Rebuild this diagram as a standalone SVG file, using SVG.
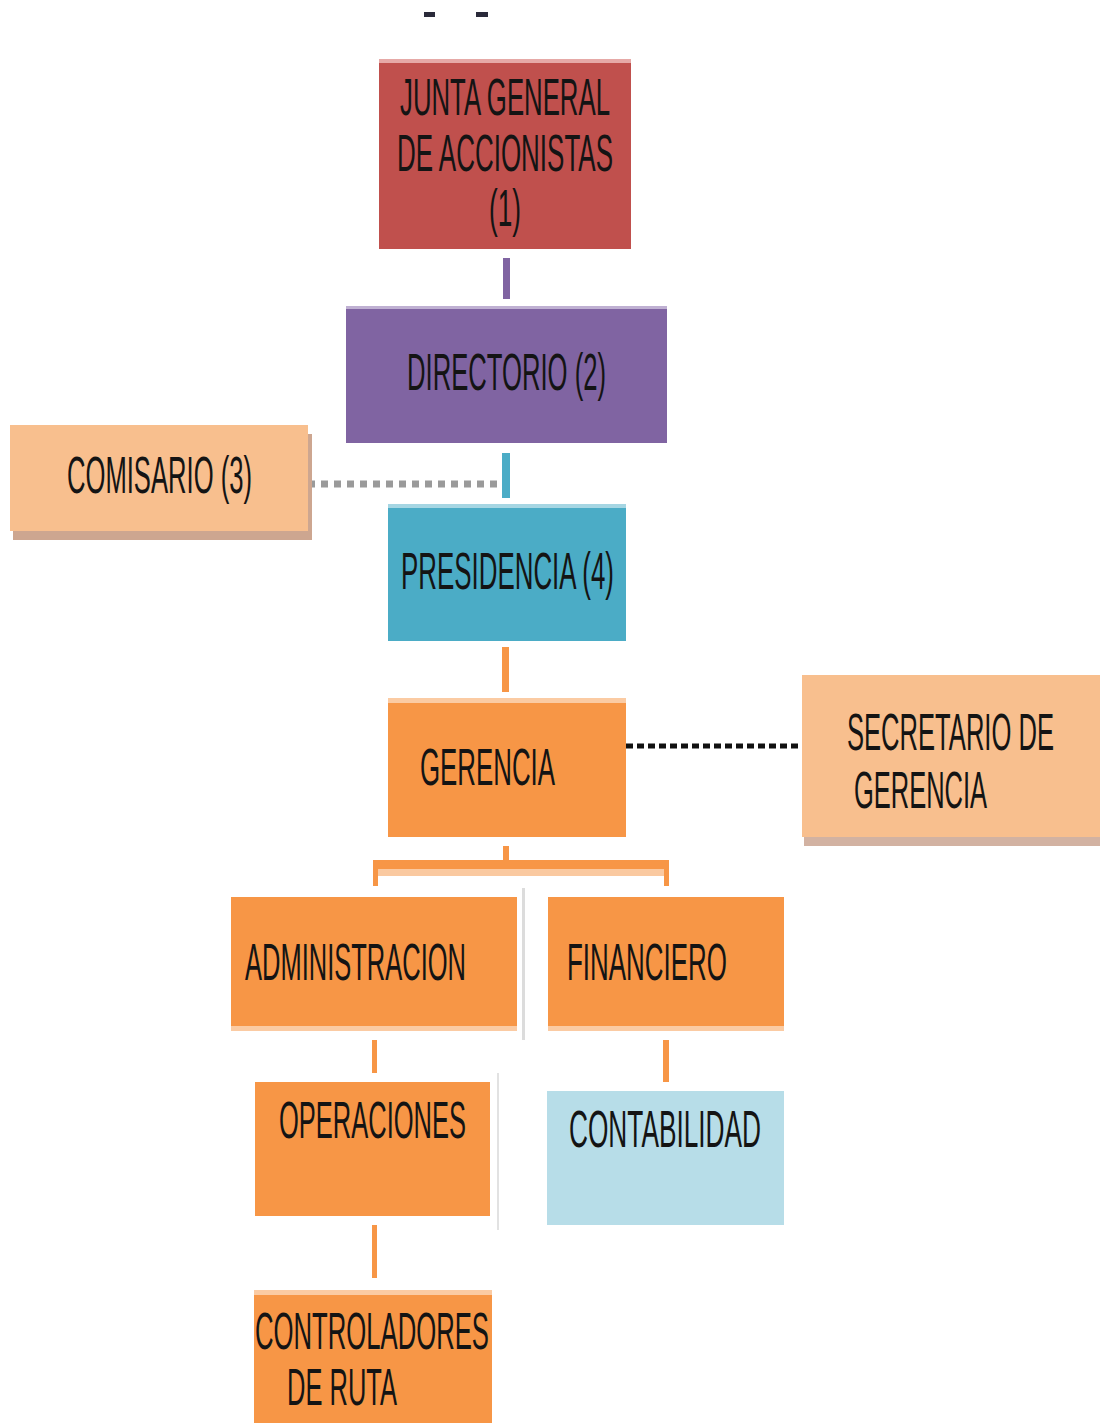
<svg xmlns="http://www.w3.org/2000/svg" width="1101" height="1423" viewBox="0 0 1101 1423">
  <style>
    .lbl { font-family: "Liberation Sans", Arial, sans-serif; font-size: 52px; fill: #141414; }
  </style>
  <rect width="1101" height="1423" fill="#ffffff"/>

  <!-- stray marks at the top -->
  <rect x="424" y="12" width="11" height="5" fill="#2a2a3a"/>
  <rect x="476" y="12" width="12" height="5" fill="#2a2a3a"/>

  <!-- connectors -->
  <g id="connectors">
    <rect x="503" y="258" width="7" height="41" fill="#8064A2"/>
    <rect x="502" y="453" width="8" height="45" fill="#4BACC6"/>
    <line x1="308" y1="484" x2="501" y2="484" stroke="#9a9a9a" stroke-width="7" stroke-dasharray="7 6"/>
    <rect x="502" y="647" width="7" height="45" fill="#F79646"/>
    <line x1="626" y1="746" x2="802" y2="746" stroke="#111111" stroke-width="5" stroke-dasharray="7 4"/>
    <!-- branch under GERENCIA -->
    <rect x="503" y="846" width="6" height="16" fill="#F79646"/>
    <rect x="374" y="860" width="294" height="9" fill="#F79646"/>
    <rect x="378" y="869" width="286" height="7" fill="#FAC9A0"/>
    <rect x="373" y="860" width="5" height="26" fill="#F79646"/>
    <rect x="664" y="860" width="5" height="26" fill="#F79646"/>
    <rect x="522" y="888" width="3" height="152" fill="#dcdcdc"/>
    <rect x="497" y="1073" width="2" height="157" fill="#e2e2e2"/>
    <rect x="372" y="1040" width="5" height="33" fill="#F79646"/>
    <rect x="663" y="1040" width="6" height="42" fill="#F79646"/>
    <rect x="372" y="1225" width="5" height="53" fill="#F79646"/>
  </g>

  <!-- labels are set in a condensed form: half-width scale, stretched back to exact width -->
  <g id="junta">
    <rect x="379" y="59" width="252" height="190" fill="#C0504D"/>
    <rect x="379" y="59" width="252" height="4" fill="#E6A9A7"/>
    <text class="lbl" transform="translate(400,115) scale(0.5,1)" textLength="420" lengthAdjust="spacingAndGlyphs">JUNTA GENERAL</text>
    <text class="lbl" transform="translate(397,171) scale(0.5,1)" textLength="432" lengthAdjust="spacingAndGlyphs">DE ACCIONISTAS</text>
    <text class="lbl" transform="translate(489,226) scale(0.5,1)" textLength="64" lengthAdjust="spacingAndGlyphs">(1)</text>
  </g>

  <g id="directorio">
    <rect x="346" y="306" width="321" height="137" fill="#8064A2"/>
    <rect x="346" y="306" width="321" height="3" fill="#BFB0D2"/>
    <text class="lbl" transform="translate(407,390) scale(0.5,1)" textLength="398" lengthAdjust="spacingAndGlyphs">DIRECTORIO (2)</text>
  </g>

  <g id="comisario">
    <rect x="13" y="434" width="299" height="106" fill="#CDA690"/>
    <rect x="10" y="425" width="298" height="106" fill="#F8BF8E"/>
    <text class="lbl" transform="translate(67,493) scale(0.5,1)" textLength="370" lengthAdjust="spacingAndGlyphs">COMISARIO (3)</text>
  </g>

  <g id="presidencia">
    <rect x="388" y="504" width="238" height="137" fill="#4BACC6"/>
    <rect x="388" y="504" width="238" height="4" fill="#A6D6E3"/>
    <text class="lbl" transform="translate(401,589) scale(0.5,1)" textLength="426" lengthAdjust="spacingAndGlyphs">PRESIDENCIA (4)</text>
  </g>

  <g id="gerencia">
    <rect x="388" y="698" width="238" height="139" fill="#F79646"/>
    <rect x="388" y="698" width="238" height="5" fill="#FBCBA3"/>
    <text class="lbl" transform="translate(420,785) scale(0.5,1)" textLength="270" lengthAdjust="spacingAndGlyphs">GERENCIA</text>
  </g>

  <g id="secretario">
    <rect x="804" y="836" width="296" height="10" fill="#D2B2A2"/>
    <rect x="802" y="675" width="298" height="162" fill="#F8BF8E"/>
    <text class="lbl" transform="translate(847,750) scale(0.5,1)" textLength="414" lengthAdjust="spacingAndGlyphs">SECRETARIO DE</text>
    <text class="lbl" transform="translate(854,808) scale(0.5,1)" textLength="266" lengthAdjust="spacingAndGlyphs">GERENCIA</text>
  </g>

  <g id="administracion">
    <rect x="231" y="897" width="286" height="130" fill="#F79646"/>
    <rect x="231" y="1026" width="286" height="5" fill="#FBCBA3"/>
    <text class="lbl" transform="translate(245,980) scale(0.5,1)" textLength="442" lengthAdjust="spacingAndGlyphs">ADMINISTRACION</text>
  </g>

  <g id="financiero">
    <rect x="548" y="897" width="236" height="130" fill="#F79646"/>
    <rect x="548" y="1026" width="236" height="5" fill="#FBCBA3"/>
    <text class="lbl" transform="translate(567,980) scale(0.5,1)" textLength="320" lengthAdjust="spacingAndGlyphs">FINANCIERO</text>
  </g>

  <g id="operaciones">
    <rect x="255" y="1082" width="235" height="134" fill="#F79646"/>
    <text class="lbl" transform="translate(279,1138) scale(0.5,1)" textLength="374" lengthAdjust="spacingAndGlyphs">OPERACIONES</text>
  </g>

  <g id="contabilidad">
    <rect x="547" y="1091" width="237" height="134" fill="#B7DDE8"/>
    <text class="lbl" transform="translate(569,1147) scale(0.5,1)" textLength="384" lengthAdjust="spacingAndGlyphs">CONTABILIDAD</text>
  </g>

  <g id="controladores">
    <rect x="254" y="1290" width="238" height="133" fill="#F79646"/>
    <rect x="254" y="1290" width="238" height="5" fill="#FBCBA3"/>
    <text class="lbl" transform="translate(255,1349) scale(0.5,1)" textLength="468" lengthAdjust="spacingAndGlyphs">CONTROLADORES</text>
    <text class="lbl" transform="translate(287,1405) scale(0.5,1)" textLength="220" lengthAdjust="spacingAndGlyphs">DE RUTA</text>
  </g>
</svg>
